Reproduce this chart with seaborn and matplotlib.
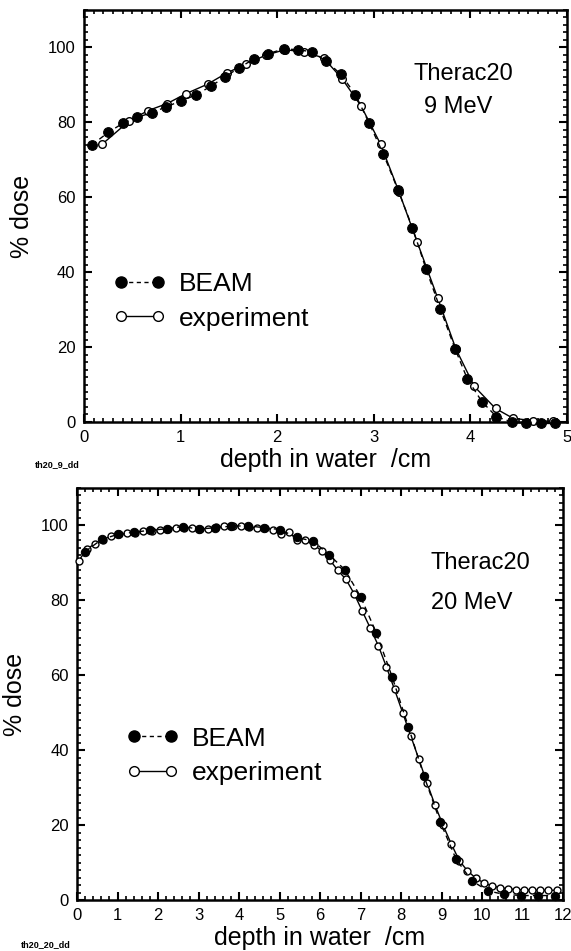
import numpy as np
import pandas as pd
import matplotlib
matplotlib.use("Agg")
import matplotlib.pyplot as plt
from matplotlib.ticker import MultipleLocator
from matplotlib.lines import Line2D
import seaborn as sns

# ---------------- data ----------------
# 9 MeV
beam9_x = [0.08, 0.25, 0.40, 0.55, 0.70, 0.85, 1.00, 1.16, 1.31, 1.46, 1.60, 1.76, 1.90,
           2.07, 2.22, 2.36, 2.51, 2.66, 2.81, 2.95, 3.10, 3.25, 3.40, 3.54, 3.69, 3.84,
           3.97, 4.12, 4.27, 4.43, 4.58, 4.73, 4.88]
beam9_y = [73.9, 77.3, 79.7, 81.3, 82.6, 84.1, 85.7, 87.3, 89.6, 92.1, 94.5, 96.9, 98.3,
           99.6, 99.4, 98.8, 96.3, 92.8, 87.4, 79.9, 71.5, 62.0, 51.9, 40.9, 30.1, 19.6,
           11.4, 5.4, 1.4, 0.0, -0.4, -0.4, -0.4]
exp9_x = [0.19, 0.47, 0.66, 0.86, 1.06, 1.28, 1.48, 1.68, 1.88, 2.08, 2.28, 2.48, 2.67,
          2.87, 3.07, 3.26, 3.45, 3.66, 3.85, 4.04, 4.26, 4.44, 4.65, 4.86]
exp9_y = [74.2, 80.4, 83.1, 85.0, 87.7, 90.2, 93.2, 95.6, 97.9, 99.4, 98.8, 97.2, 91.7,
          84.3, 74.2, 61.5, 48.0, 33.2, 19.5, 9.5, 3.6, 1.0, 0.3, 0.2]

# 20 MeV
beam20_x = [0.20, 0.61, 1.01, 1.41, 1.80, 2.21, 2.61, 3.01, 3.41, 3.80, 4.21, 4.61, 5.01,
            5.42, 5.83, 6.22, 6.61, 7.00, 7.39, 7.78, 8.18, 8.57, 8.97, 9.36, 9.75, 10.16,
            10.55, 10.97, 11.38, 11.79]
beam20_y = [93.0, 96.3, 97.6, 98.2, 98.7, 99.1, 99.7, 99.0, 99.4, 99.8, 99.9, 99.4, 98.9,
            96.8, 95.8, 92.2, 88.2, 81.0, 71.3, 59.6, 46.3, 33.0, 20.8, 10.9, 5.1, 2.4,
            1.5, 1.2, 1.2, 1.2]
exp20_x = [0.04, 0.24, 0.44, 0.64, 0.84, 1.04, 1.24, 1.44, 1.64, 1.84, 2.04, 2.24, 2.44,
           2.64, 2.84, 3.04, 3.24, 3.44, 3.64, 3.84, 4.04, 4.24, 4.44, 4.64, 4.84, 5.04,
           5.24, 5.44, 5.64, 5.84, 6.04, 6.24, 6.44, 6.64, 6.84, 7.04, 7.24, 7.44, 7.64,
           7.84, 8.04, 8.24, 8.44, 8.64, 8.84, 9.04, 9.24, 9.44, 9.64, 9.84, 10.04, 10.24,
           10.44, 10.64, 10.84, 11.04, 11.24, 11.44, 11.64, 11.84]
exp20_y = [90.5, 93.8, 95.0, 96.2, 97.2, 97.6, 97.9, 98.1, 98.4, 98.6, 98.9, 99.0, 99.3,
           99.4, 99.3, 99.1, 99.1, 99.5, 99.8, 99.8, 99.8, 99.5, 99.3, 99.2, 98.9, 97.8,
           98.2, 96.0, 96.0, 94.9, 93.2, 90.8, 88.0, 85.6, 81.8, 77.2, 72.6, 67.9, 62.2,
           56.2, 50.0, 43.8, 37.6, 31.3, 25.3, 19.9, 15.0, 10.5, 7.8, 5.9, 4.6, 3.8, 3.3,
           3.0, 2.8, 2.7, 2.6, 2.6, 2.6, 2.6]

series_labels = ["BEAM", "experiment"]
x_label = "depth in water  /cm"
y_label = "% dose"
panel_titles = [("Therac20", "9 MeV"), ("Therac20", "20 MeV")]
file_tags = ["th20_9_dd", "th20_20_dd"]

# ---------------- style ----------------
sns.set_theme(style="ticks")
plt.rcParams["font.family"] = ["Liberation Sans", "DejaVu Sans"]
plt.rcParams["axes.linewidth"] = 1.8
plt.rcParams["text.color"] = "black"
plt.rcParams["axes.labelcolor"] = "black"
plt.rcParams["xtick.color"] = "black"
plt.rcParams["ytick.color"] = "black"
plt.rcParams["axes.edgecolor"] = "black"

fig = plt.figure(figsize=(5.71, 9.51), dpi=100)
ax1 = fig.add_axes([0.147, 0.5563, 0.846, 0.4332])
ax2 = fig.add_axes([0.135, 0.0536, 0.851, 0.4333])


def draw(ax, bx, by, ex, ey, ms_f, ms_o):
    dfb = pd.DataFrame({"x": bx, "y": by})
    dfe = pd.DataFrame({"x": ex, "y": ey})
    sns.lineplot(data=dfe, x="x", y="y", ax=ax, color="black", linewidth=1.0,
                 linestyle="-", marker="o", markersize=ms_o, markerfacecolor="white",
                 markeredgecolor="black", markeredgewidth=1.0, sort=False,
                 estimator=None, clip_on=False, zorder=3)
    sns.lineplot(data=dfb, x="x", y="y", ax=ax, color="black", linewidth=1.0,
                 linestyle=(0, (4, 3)), marker="o", markersize=ms_f, markerfacecolor="black",
                 markeredgecolor="black", sort=False, estimator=None, clip_on=False, zorder=4)


draw(ax1, beam9_x, beam9_y, exp9_x, exp9_y, 7.0, 5.5)
draw(ax2, beam20_x, beam20_y, exp20_x, exp20_y, 6.0, 5.0)

ax1.set_xlim(0, 5)
ax2.set_xlim(0, 12)
for ax in (ax1, ax2):
    ax.set_ylim(0, 110)
    ax.set_yticks([0, 20, 40, 60, 80, 100])
    ax.yaxis.set_minor_locator(MultipleLocator(2))
    ax.tick_params(which="both", direction="in", top=True, right=True,
                   labelsize=12, pad=6, color="black", labelcolor="black")
    ax.tick_params(which="major", length=6, width=1.5)
    ax.tick_params(which="minor", length=3, width=1.2)
    ax.set_xlabel(x_label, fontsize=18, labelpad=2, color="black")
    ax.set_ylabel(y_label, fontsize=18, labelpad=10, color="black")
    for s in ax.spines.values():
        s.set_color("black")
        s.set_linewidth(1.8)

ax1.set_xticks([0, 1, 2, 3, 4, 5])
ax1.xaxis.set_minor_locator(MultipleLocator(0.1))
ax2.set_xticks(list(range(13)))
ax2.xaxis.set_minor_locator(MultipleLocator(0.2))

# legends
for ax, anchor, msf, mso in ((ax1, (0.06, 0.293), 8, 7), (ax2, (0.10, 0.35), 8, 7)):
    h_beam = Line2D([], [], color="black", linestyle=(0, (3, 2.5)), linewidth=1.0,
                    marker="o", markersize=msf, markerfacecolor="black")
    h_exp = Line2D([], [], color="black", linestyle="-", linewidth=1.0,
                   marker="o", markersize=mso, markerfacecolor="white")
    leg = ax.legend([h_beam, h_exp], series_labels, loc="center left", bbox_to_anchor=anchor,
                    frameon=False, fontsize=19, numpoints=2, handlelength=2.0,
                    handletextpad=0.5, labelspacing=0.4, borderpad=0, borderaxespad=0)
    for t in leg.get_texts():
        t.set_color("black")

# panel texts
ax1.text(3.41, 92.8, panel_titles[0][0], fontsize=17, ha="left", va="center", color="black")
ax1.text(3.52, 84.0, panel_titles[0][1], fontsize=17, ha="left", va="center", color="black")
ax2.text(8.74, 89.9, panel_titles[1][0], fontsize=17, ha="left", va="center", color="black")
ax2.text(8.74, 79.3, panel_titles[1][1], fontsize=17, ha="left", va="center", color="black")

fig.text(35 / 571, 1 - 465 / 951, file_tags[0], fontsize=6.5, fontweight="bold",
         ha="left", va="center", color="black")
fig.text(21 / 571, 1 - 945 / 951, file_tags[1], fontsize=6.5, fontweight="bold",
         ha="left", va="center", color="black")

fig.savefig("out.png", dpi=100)
